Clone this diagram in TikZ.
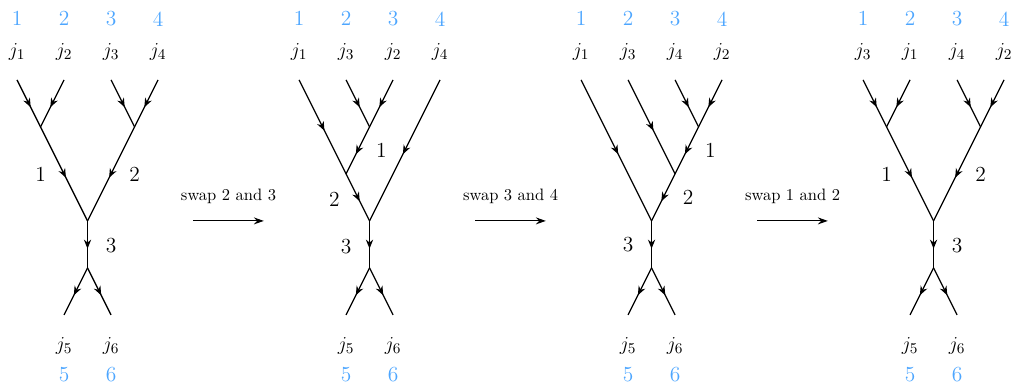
\documentclass[tikz,border=0pt]{standalone}
\usetikzlibrary{arrows.meta,decorations.markings}
\definecolor{SlotBlue}{HTML}{4DA6FF}
\tikzset{
fuse/.style={postaction={decorate},decoration={markings,mark=at position .5 with {\pgftransformxshift{2.6pt}\arrow{Stealth[length=5.5pt,width=4.4pt]}}}},
spin/.style={font=\fontsize{13}{15}\selectfont},
slot/.style={font=\fontsize{13}{15}\selectfont, text=SlotBlue},
chan/.style={font=\fontsize{13}{15}\selectfont},
swaparrow/.style={-{Stealth[length=6pt,width=4.2pt]}, line width=0.7pt},
}
\begin{document}
\begin{tikzpicture}[x=1cm,y=1cm,line width=0.75pt]
        \useasboundingbox (-0.362,1.70) rectangle (21.19,-6.51);
        % tree 1: ((j1 j2) (j3 j4))
        \begin{scope}
        \coordinate (a1) at (0,0); \coordinate (a2) at (1,0); \coordinate (a3) at (2,0); \coordinate (a4) at (3,0);
        \coordinate (aL) at (0.5,-1); \coordinate (aR) at (2.5,-1);
        \coordinate (aT) at (1.5,-3); \coordinate (aB) at (1.5,-4);
        \coordinate (a5) at (1,-5); \coordinate (a6) at (2,-5);
        \draw[fuse] (a1) -- (aL); \draw[fuse] (a2) -- (aL);
        \draw[fuse] (a3) -- (aR); \draw[fuse] (a4) -- (aR);
        \draw[fuse] (aL) -- (aT); \draw[fuse] (aR) -- (aT);
        \draw[fuse] (aT) -- (aB);
        \draw[fuse] (aB) -- (a5); \draw[fuse] (aB) -- (a6);
        \node[spin] (aj1) at (0,0.6) {$j_1$}; \node[spin] (aj2) at (1,0.6) {$j_2$};
        \node[spin] (aj3) at (2,0.6) {$j_3$}; \node[spin] (aj4) at (3,0.6) {$j_4$};
        \node[spin] (aj5) at (1,-5.67) {$j_5$}; \node[spin] (aj6) at (2,-5.67) {$j_6$};
        \foreach \i in {1,...,4} {\node[slot] (as\i) at (\i-1,1.3) {\i};}
        \node[slot] (as5) at (1,-6.26) {5}; \node[slot] (as6) at (2,-6.26) {6};
        \node[chan] (ae1) at (0.5,-2) {1}; \node[chan] (ae2) at (2.5,-2) {2}; \node[chan] (ae3) at (2,-3.52) {3};
        \end{scope}
        % swap 2 and 3
        \coordinate (s1a) at (3.75,-3); \coordinate (s1b) at (5.25,-3);
        \draw[swaparrow] (s1a) -- (s1b);
        \node (sw1) at (4.5,-2.47) {swap 2 and 3};
        % tree 2: (((j1 (j3 j2)) j4)
        \begin{scope}[xshift=6cm]
        \coordinate (b1) at (0,0); \coordinate (b2) at (1,0); \coordinate (b3) at (2,0); \coordinate (b4) at (3,0);
        \coordinate (bU) at (1.5,-1); \coordinate (bM) at (1,-2);
        \coordinate (bT) at (1.5,-3); \coordinate (bB) at (1.5,-4);
        \coordinate (b5) at (1,-5); \coordinate (b6) at (2,-5);
        \draw[fuse] (b2) -- (bU); \draw[fuse] (b3) -- (bU);
        \draw[fuse] (bU) -- (bM); \draw[fuse] (b1) -- (bM);
        \draw[fuse] (bM) -- (bT); \draw[fuse] (b4) -- (bT);
        \draw[fuse] (bT) -- (bB);
        \draw[fuse] (bB) -- (b5); \draw[fuse] (bB) -- (b6);
        \node[spin] (bj1) at (0,0.6) {$j_1$}; \node[spin] (bj3) at (1,0.6) {$j_3$};
        \node[spin] (bj2) at (2,0.6) {$j_2$}; \node[spin] (bj4) at (3,0.6) {$j_4$};
        \node[spin] (bj5) at (1,-5.67) {$j_5$}; \node[spin] (bj6) at (2,-5.67) {$j_6$};
        \foreach \i in {1,...,4} {\node[slot] (bs\i) at (\i-1,1.3) {\i};}
        \node[slot] (bs5) at (1,-6.26) {5}; \node[slot] (bs6) at (2,-6.26) {6};
        \node[chan] (be1) at (1.75,-1.5) {1}; \node[chan] (be2) at (0.75,-2.55) {2}; \node[chan] (be3) at (1,-3.55) {3};
        \end{scope}
        % swap 3 and 4
        \coordinate (s2a) at (9.75,-3); \coordinate (s2b) at (11.25,-3);
        \draw[swaparrow] (s2a) -- (s2b);
        \node (sw2) at (10.5,-2.47) {swap 3 and 4};
        % tree 3: ((j1 (j3 (j4 j2)))
        \begin{scope}[xshift=12cm]
        \coordinate (c1) at (0,0); \coordinate (c2) at (1,0); \coordinate (c3) at (2,0); \coordinate (c4) at (3,0);
        \coordinate (cU) at (2.5,-1); \coordinate (cM) at (2,-2);
        \coordinate (cT) at (1.5,-3); \coordinate (cB) at (1.5,-4);
        \coordinate (c5) at (1,-5); \coordinate (c6) at (2,-5);
        \draw[fuse] (c3) -- (cU); \draw[fuse] (c4) -- (cU);
        \draw[fuse] (cU) -- (cM); \draw[fuse] (c2) -- (cM);
        \draw[fuse] (cM) -- (cT); \draw[fuse] (c1) -- (cT);
        \draw[fuse] (cT) -- (cB);
        \draw[fuse] (cB) -- (c5); \draw[fuse] (cB) -- (c6);
        \node[spin] (cj1) at (0,0.6) {$j_1$}; \node[spin] (cj3) at (1,0.6) {$j_3$};
        \node[spin] (cj4) at (2,0.6) {$j_4$}; \node[spin] (cj2) at (3,0.6) {$j_2$};
        \node[spin] (cj5) at (1,-5.67) {$j_5$}; \node[spin] (cj6) at (2,-5.67) {$j_6$};
        \foreach \i in {1,...,4} {\node[slot] (cs\i) at (\i-1,1.3) {\i};}
        \node[slot] (cs5) at (1,-6.26) {5}; \node[slot] (cs6) at (2,-6.26) {6};
        \node[chan] (ce1) at (2.75,-1.5) {1}; \node[chan] (ce2) at (2.28,-2.5) {2}; \node[chan] (ce3) at (1,-3.5) {3};
        \end{scope}
        % swap 1 and 2
        \coordinate (s3a) at (15.75,-3); \coordinate (s3b) at (17.25,-3);
        \draw[swaparrow] (s3a) -- (s3b);
        \node (sw3) at (16.5,-2.47) {swap 1 and 2};
        % tree 4: ((j3 j1) (j4 j2))
        \begin{scope}[xshift=18cm]
        \coordinate (d1) at (0,0); \coordinate (d2) at (1,0); \coordinate (d3) at (2,0); \coordinate (d4) at (3,0);
        \coordinate (dL) at (0.5,-1); \coordinate (dR) at (2.5,-1);
        \coordinate (dT) at (1.5,-3); \coordinate (dB) at (1.5,-4);
        \coordinate (d5) at (1,-5); \coordinate (d6) at (2,-5);
        \draw[fuse] (d1) -- (dL); \draw[fuse] (d2) -- (dL);
        \draw[fuse] (d3) -- (dR); \draw[fuse] (d4) -- (dR);
        \draw[fuse] (dL) -- (dT); \draw[fuse] (dR) -- (dT);
        \draw[fuse] (dT) -- (dB);
        \draw[fuse] (dB) -- (d5); \draw[fuse] (dB) -- (d6);
        \node[spin] (dj3) at (0,0.6) {$j_3$}; \node[spin] (dj1) at (1,0.6) {$j_1$};
        \node[spin] (dj4) at (2,0.6) {$j_4$}; \node[spin] (dj2) at (3,0.6) {$j_2$};
        \node[spin] (dj5) at (1,-5.67) {$j_5$}; \node[spin] (dj6) at (2,-5.67) {$j_6$};
        \foreach \i in {1,...,4} {\node[slot] (ds\i) at (\i-1,1.3) {\i};}
        \node[slot] (ds5) at (1,-6.26) {5}; \node[slot] (ds6) at (2,-6.26) {6};
        \node[chan] (de1) at (0.5,-2) {1}; \node[chan] (de2) at (2.5,-2) {2}; \node[chan] (de3) at (2,-3.52) {3};
        \end{scope}
    \end{tikzpicture}
\end{document}
